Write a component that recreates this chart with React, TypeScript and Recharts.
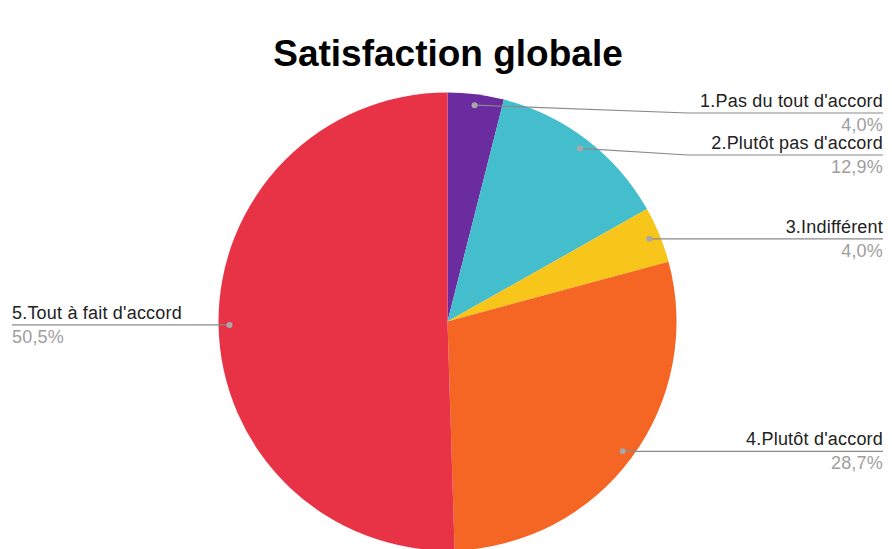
import React from "react";
import { PieChart, Pie, Cell } from "recharts";

// réponses (101 au total)
const categories = [
  "1.Pas du tout d'accord",
  "2.Plutôt pas d'accord",
  "3.Indifférent",
  "4.Plutôt d'accord",
  "5.Tout à fait d'accord",
];
const counts = [4, 13, 4, 29, 51];
const colors = ["#6a2c9e", "#44bdcd", "#f8c51a", "#f56523", "#e83347"];

const W = 892;
const H = 549;
const CX = 447.5;
const CY = 321.5;
const R = 229;
const RIGHT_X = 883;
const LEFT_X = 12;
const GAP = 42;

const data = categories.map((name, i) => ({ name, value: counts[i] }));

// precompute label line heights so right-side labels don't collide
const total = counts.reduce((a, b) => a + b, 0);
const lineYs: number[] = (() => {
  let acc = 0;
  let prevRight = -Infinity;
  return counts.map((v) => {
    const mid = ((acc + v / 2) / total) * 360; // degrees clockwise from top
    acc += v;
    const rad = (mid * Math.PI) / 180;
    const dotY = CY - (R - 11) * Math.cos(rad);
    const right = Math.sin(rad) >= 0;
    if (!right) return dotY;
    const y = Math.max(dotY, prevRight + GAP, 113);
    prevRight = y;
    return y;
  });
})();

const fmt = (p: number) => (p * 100).toFixed(1).replace(".", ",") + "%";

const renderLabel = (props: any) => {
  const { cx, cy, midAngle, outerRadius, percent, index, name } = props;
  const rad = (-midAngle * Math.PI) / 180;
  const dx = cx + (outerRadius - 11) * Math.cos(rad);
  const dy = cy + (outerRadius - 11) * Math.sin(rad);
  const right = Math.cos(rad) >= 0;
  const ly = lineYs[index];
  const endX = right ? RIGHT_X : LEFT_X;
  const bendX = right ? 688 : 208;
  const pts =
    Math.abs(ly - dy) < 1
      ? `${dx},${dy} ${endX},${ly}`
      : `${dx},${dy} ${bendX},${ly} ${endX},${ly}`;
  const anchor = right ? "end" : "start";
  return (
    <g key={`lbl-${index}`}>
      <polyline points={pts} fill="none" stroke="#8a8a8a" strokeWidth={1.2} />
      <circle cx={dx} cy={dy} r={3} fill="#a8a8a8" />
      <text
        x={endX}
        y={ly - 6}
        textAnchor={anchor}
        fontSize={18}
        letterSpacing={0.2}
        fill="#222"
        fontFamily="Liberation Sans, Arial, sans-serif"
      >
        {name}
      </text>
      <text
        x={endX}
        y={ly + 18}
        textAnchor={anchor}
        fontSize={18}
        letterSpacing={0.2}
        fill="#9e9e9e"
        fontFamily="Liberation Sans, Arial, sans-serif"
      >
        {fmt(percent)}
      </text>
    </g>
  );
};

export default function App() {
  return (
    <div style={{ position: "relative", width: W, height: H, background: "#fff", overflow: "hidden" }}>
      <style>{"body{margin:0}"}</style>
      <div
        style={{
          position: "absolute",
          top: 35,
          left: 0,
          width: 896,
          textAlign: "center",
          fontFamily: "Liberation Sans, Arial, sans-serif",
          fontWeight: "bold",
          fontSize: 37,
          lineHeight: "37px",
          color: "#000",
        }}
      >
        Satisfaction globale
      </div>
      <PieChart width={W} height={H} margin={{ top: 0, right: 0, bottom: 0, left: 0 }}>
        <Pie
          data={data}
          dataKey="value"
          nameKey="name"
          cx={CX}
          cy={CY}
          outerRadius={R}
          startAngle={90}
          endAngle={-270}
          stroke="none"
          label={renderLabel}
          labelLine={false}
          isAnimationActive={false}
        >
          {data.map((d, i) => (
            <Cell key={d.name} fill={colors[i]} />
          ))}
        </Pie>
      </PieChart>
    </div>
  );
}
